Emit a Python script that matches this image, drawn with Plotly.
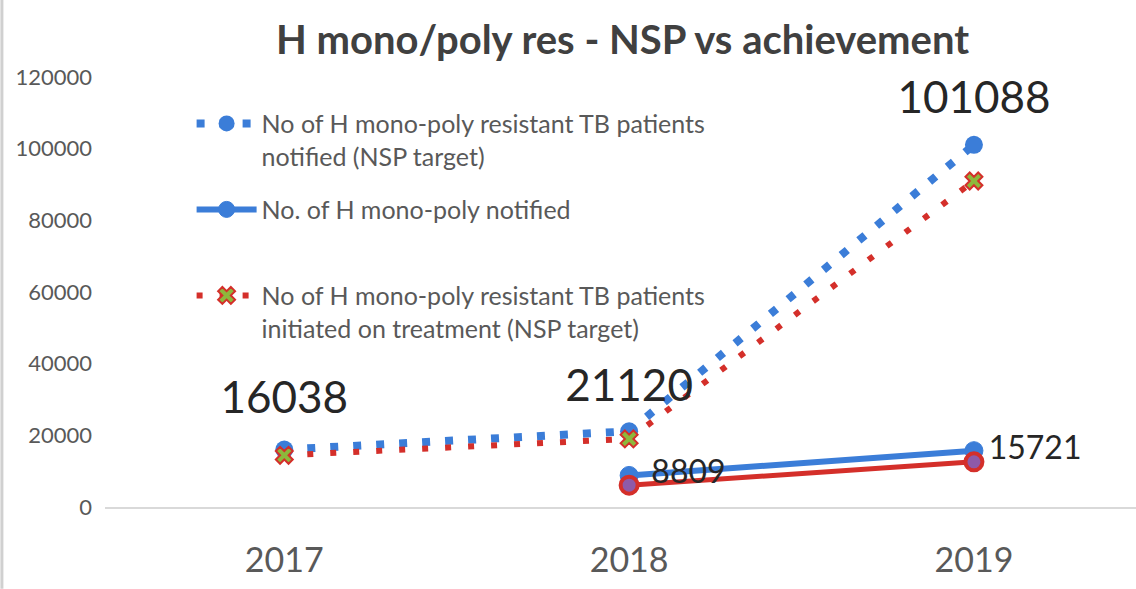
import plotly.graph_objects as go

years = ["2017", "2018", "2019"]
nsp_notified = [16038, 21120, 101088]
nsp_initiated = [14434, 19008, 90979]
notified_years = ["2018", "2019"]
notified = [8809, 15721]
initiated = [6100, 12600]

name_nsp_notified = "No of H mono-poly resistant TB patients<br>notified (NSP target)"
name_notified = "No. of H mono-poly notified<br> "
name_nsp_initiated = "No of H mono-poly resistant TB patients<br>initiated on treatment (NSP target)"

BLUE = "#3b7dd8"
RED = "#d42f2a"
GREEN = "#8db83c"
GREY = "#595959"
DARK = "#262626"
FONT = "Lato"

fig = go.Figure()

fig.add_trace(go.Scatter(
    x=years, y=nsp_notified, name=name_nsp_notified, mode="lines+markers",
    line=dict(color=BLUE, width=8, dash="8px,15px"),
    marker=dict(symbol="circle", size=18, color=BLUE),
    legendgroup="a",
))
fig.add_trace(go.Scatter(
    x=notified_years, y=notified, name=name_notified, mode="lines+markers",
    line=dict(color=BLUE, width=6),
    marker=dict(symbol="circle", size=18, color=BLUE, line=dict(color=BLUE, width=1)),
    legendgroup="b",
))
fig.add_trace(go.Scatter(
    x=years, y=nsp_initiated, name=name_nsp_initiated, mode="lines+markers",
    line=dict(color=RED, width=6, dash="6px,17px"),
    marker=dict(symbol="x", size=15, color=GREEN, line=dict(color=RED, width=2)),
    legendgroup="c",
))
fig.add_trace(go.Scatter(
    x=notified_years, y=initiated, name="initiated", mode="lines+markers",
    line=dict(color=RED, width=5),
    marker=dict(symbol="circle", size=17, color="#8e5aa8", line=dict(color=RED, width=4)),
    showlegend=False,
))

# data labels
fig.add_trace(go.Scatter(
    x=years, y=nsp_notified, mode="markers+text", text=[str(v) for v in nsp_notified],
    textposition="top center", textfont=dict(family=FONT, size=44, color=DARK),
    marker=dict(size=[40, 30, 32], opacity=0), showlegend=False, hoverinfo="skip",
))
fig.add_trace(go.Scatter(
    x=notified_years, y=notified, mode="markers+text", text=[str(v) for v in notified],
    textposition="middle right", textfont=dict(family=FONT, size=32, color=DARK),
    marker=dict(size=[34, 22], opacity=0), showlegend=False, hoverinfo="skip",
))

fig.update_layout(
    width=1136, height=589,
    paper_bgcolor="white", plot_bgcolor="white",
    margin=dict(l=105, r=0, t=77, b=82),
    font=dict(family=FONT, color=GREY),
    title=dict(text="H mono/poly res - NSP vs achievement", x=0.548, xanchor="center",
               y=0.932, yanchor="middle", xref="container", yref="container",
               font=dict(family=FONT, size=40, color="#404040", weight="bold")),
    showlegend=True,
    legend=dict(x=0.084, y=0.945, xanchor="left", yanchor="top",
                bgcolor="rgba(0,0,0,0)", font=dict(family=FONT, size=25, color=GREY),
                valign="top", itemwidth=60, tracegroupgap=18),
    shapes=[dict(type="line", xref="paper", yref="paper", x0=-0.1, x1=-0.1, y0=-0.19, y1=1.18,
                 line=dict(color="#d0d0d0", width=3))],
)
fig.update_xaxes(type="category", range=[-0.52, 2.47], showgrid=False, showline=True,
                 linecolor="#d9d9d9", linewidth=2, ticks="", zeroline=False,
                 tickfont=dict(family=FONT, size=34, color=GREY), ticklabelstandoff=22)
fig.update_yaxes(range=[0, 120000], dtick=20000, showgrid=False, zeroline=False,
                 showline=False, tickfont=dict(family=FONT, size=22, color=GREY),
                 ticklabelstandoff=12, tickformat="d")

fig.write_html("out.html", config={"displayModeBar": False},
               post_script="document.body.style.margin='0';")
